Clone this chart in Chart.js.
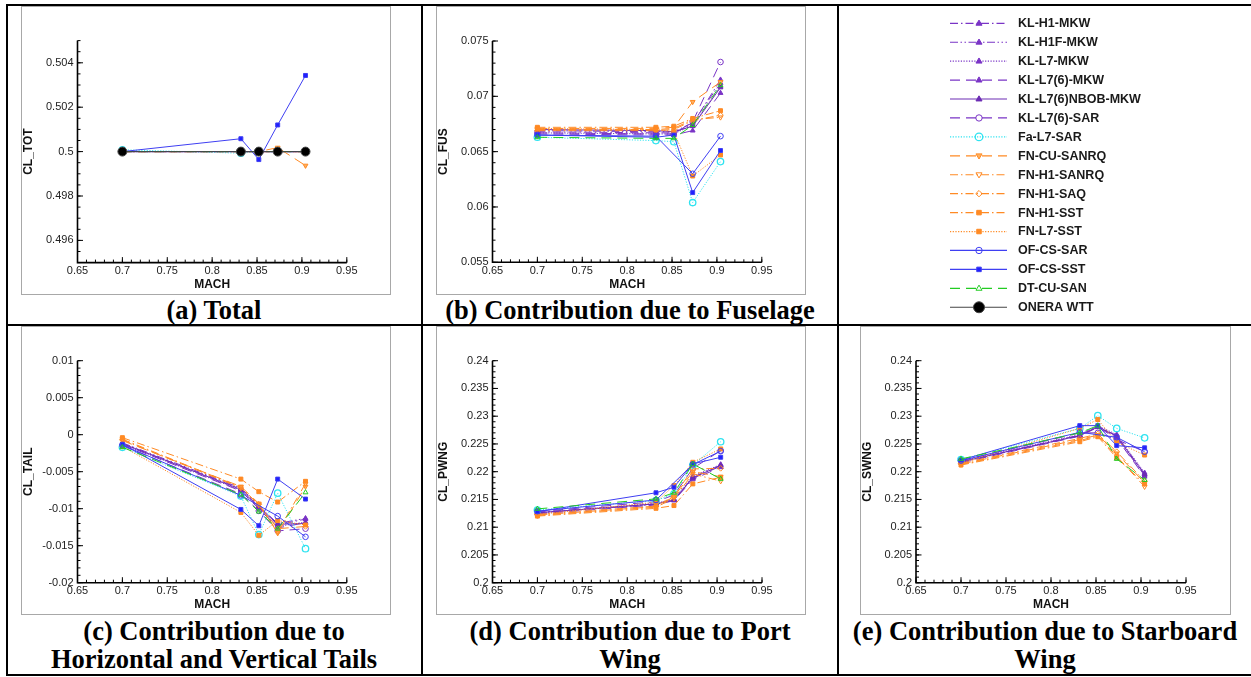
<!DOCTYPE html>
<html><head><meta charset="utf-8">
<script src="https://cdn.jsdelivr.net/npm/chart.js@4.4.0/dist/chart.umd.min.js"></script>
<style>
html,body{margin:0;padding:0;background:#fff;}
#root{position:relative;width:1251px;height:677px;overflow:hidden;background:#fff;}
.ln{position:absolute;background:#000;}
.frame{position:absolute;border:1px solid #a8a8a8;box-sizing:border-box;}
canvas{position:absolute;}
.cap{position:absolute;font:bold 26.5px "Liberation Serif","Times New Roman",serif;text-align:center;white-space:nowrap;color:#000;line-height:28.3px;}
</style></head><body>
<div id="root">
  <div class="frame" style="left:21px;top:6px;width:370px;height:289px"></div>
  <div class="frame" style="left:436px;top:6px;width:370px;height:289px"></div>
  <div class="frame" style="left:21px;top:326px;width:370px;height:289px"></div>
  <div class="frame" style="left:436px;top:326px;width:370px;height:289px"></div>
  <div class="frame" style="left:860px;top:326px;width:371px;height:289px"></div>

  <div class="ln" style="left:6px;top:4px;width:1245px;height:2px"></div>
  <div class="ln" style="left:6px;top:324px;width:1245px;height:2px"></div>
  <div class="ln" style="left:6px;top:674px;width:1245px;height:2px"></div>
  <div class="ln" style="left:6px;top:4px;width:2px;height:672px"></div>
  <div class="ln" style="left:421px;top:4px;width:2px;height:672px"></div>
  <div class="ln" style="left:837px;top:4px;width:2px;height:672px"></div>

  <div class="cap" style="left:7px;width:414px;top:296px">(a) Total</div>
  <div class="cap" style="left:423px;width:414px;top:296px">(b) Contribution due to Fuselage</div>
  <div class="cap" style="left:7px;width:414px;top:617px">(c) Contribution due to<br>Horizontal and Vertical Tails</div>
  <div class="cap" style="left:423px;width:414px;top:617px">(d) Contribution due to Port<br>Wing</div>
  <div class="cap" style="left:839px;width:412px;top:617px">(e) Contribution due to Starboard<br>Wing</div>
</div>
<script>
// ---------------- DATA ----------------
const SERIES = ['KL-H1-MKW','KL-H1F-MKW','KL-L7-MKW','KL-L7(6)-MKW','KL-L7(6)NBOB-MKW','KL-L7(6)-SAR',
  'Fa-L7-SAR','FN-CU-SANRQ','FN-H1-SANRQ','FN-H1-SAQ','FN-H1-SST','FN-L7-SST',
  'OF-CS-SAR','OF-CS-SST','DT-CU-SAN','ONERA WTT'];
const MACH = [0.70, 0.832, 0.852, 0.873, 0.904];
const X_TICKS = ['0.65','0.7','0.75','0.8','0.85','0.9','0.95'];
const TICKS_TOT  = ['0.496','0.498','0.5','0.502','0.504'];
const TICKS_FUS  = ['0.055','0.06','0.065','0.07','0.075'];
const TICKS_TAIL = ['-0.02','-0.015','-0.01','-0.005','0','0.005','0.01'];
const TICKS_WING = ['0.2','0.205','0.21','0.215','0.22','0.225','0.23','0.235','0.24'];

// rows follow SERIES order
const CL_TOT = [
  [0.5,0.5,0.5,0.5,0.5],
  [0.5,0.5,0.5,0.5,0.5],
  [0.5,0.5,0.5,0.5,0.5],
  [0.5,0.5,0.5,0.5,0.5],
  [0.5,0.5,0.5,0.5,0.5],
  [0.5,0.5,0.5,0.5,0.5],
  [0.50008,0.49993,0.5,0.5,0.5],
  [0.5,0.5,0.5,0.50018,0.49937],
  [0.5,0.5,0.5,0.5,0.5],
  [0.5,0.5,0.5,0.5,0.5],
  [0.5,0.5,0.5,0.5,0.5],
  [0.5,0.5,0.5,0.5,0.5],
  [0.5,0.5,null,0.5,0.5],
  [0.5,0.50058,0.49964,0.50120,0.50343],
  [0.5,0.5,0.5,0.5,0.5],
  [0.5,0.5,0.5,0.5,0.5]
];
const CL_FUS = [
  [0.0668,0.0667,0.0667,0.0675,0.0715],
  [0.0669,0.0668,0.0668,0.0676,0.0712],
  [0.0667,0.0666,0.0666,0.0674,0.0709],
  [0.0666,0.0665,0.0665,0.0669,0.0703],
  [0.0670,0.0669,0.0668,0.0673,0.0708],
  [0.0667,0.0666,0.0666,0.0677,0.0731],
  [0.0663,0.0660,0.0659,0.0604,0.0641],
  [0.0671,0.0671,0.0672,0.0695,0.0713],
  [0.0670,0.0670,0.0671,0.0679,0.0681],
  [0.0669,0.0669,0.0670,0.0678,0.0683],
  [0.0672,0.0672,0.0673,0.0680,0.0687],
  [0.0671,0.0670,0.0668,0.0628,0.0647],
  [0.0665,0.0664,null,0.0630,0.0664],
  [0.0665,0.0663,0.0665,0.0613,0.0651],
  [0.0663,0.0662,0.0662,0.0674,0.0710]
];
const CL_TAIL = [
  [-0.0012,-0.0073,-0.0097,-0.0122,-0.0114],
  [-0.0011,-0.0072,-0.0096,-0.0120,-0.0113],
  [-0.0013,-0.0075,-0.0099,-0.0124,-0.0118],
  [-0.0013,-0.0076,-0.0100,-0.0126,-0.0119],
  [-0.0012,-0.0074,-0.0098,-0.0121,-0.0120],
  [-0.0015,-0.0080,-0.0103,-0.0130,-0.0127],
  [-0.0017,-0.0083,-0.0135,-0.0079,-0.0154],
  [-0.0008,-0.0070,-0.0093,-0.0133,-0.0070],
  [-0.0006,-0.0071,-0.0095,-0.0131,-0.0066],
  [-0.0007,-0.0072,-0.0094,-0.0127,-0.0124],
  [-0.0004,-0.0060,-0.0077,-0.0091,-0.0063],
  [-0.0016,-0.0105,-0.0136,-0.0116,-0.0122],
  [-0.0014,-0.0082,null,-0.0110,-0.0138],
  [-0.0013,-0.0101,-0.0123,-0.0060,-0.0087],
  [-0.0017,-0.0081,-0.0104,-0.0127,-0.0078]
];
const CL_PWNG = [
  [0.2127,0.2142,0.2150,0.2190,0.2212],
  [0.2126,0.2141,0.2149,0.2188,0.2210],
  [0.2125,0.2143,0.2151,0.2192,0.2213],
  [0.2124,0.2140,0.2148,0.2186,0.2208],
  [0.2126,0.2142,0.2149,0.2189,0.2211],
  [0.2128,0.2146,0.2158,0.2206,0.2238],
  [0.2131,0.2148,0.2160,0.2212,0.2254],
  [0.2122,0.2137,0.2155,0.2200,0.2191],
  [0.2121,0.2136,0.2152,0.2196,0.2183],
  [0.2123,0.2138,0.2156,0.2205,0.2206],
  [0.2120,0.2134,0.2139,0.2178,0.2190],
  [0.2123,0.2145,0.2175,0.2217,0.2241],
  [0.2129,0.2149,null,0.2213,0.2237],
  [0.2128,0.2162,0.2172,0.2214,0.2226],
  [0.2133,0.2151,0.2162,0.2214,0.2187]
];
const CL_SWNG = [
  [0.2218,0.2266,0.2282,0.2265,0.2196],
  [0.2217,0.2265,0.2281,0.2262,0.2193],
  [0.2219,0.2267,0.2283,0.2267,0.2198],
  [0.2216,0.2264,0.2280,0.2260,0.2191],
  [0.2218,0.2265,0.2281,0.2264,0.2195],
  [0.2220,0.2270,0.2270,0.2258,0.2236],
  [0.2222,0.2278,0.2301,0.2278,0.2261],
  [0.2214,0.2258,0.2266,0.2233,0.2180],
  [0.2213,0.2256,0.2265,0.2228,0.2173],
  [0.2215,0.2260,0.2268,0.2236,0.2183],
  [0.2212,0.2254,0.2263,0.2225,0.2178],
  [0.2216,0.2278,0.2294,0.2253,0.2230],
  [0.2220,0.2271,null,0.2262,0.2236],
  [0.2221,0.2283,0.2283,0.2247,0.2243],
  [0.2223,0.2270,0.2283,0.2223,0.2185]
];

// ---------------- STYLES ----------------
const PURPLE='#7a34c6', CYAN='#2fe3f0', ORANGE='#ff8a24', BLUE='#3f3ff2', GREEN='#22cc22';
const DASH_DOT=[8,3,1.5,3], DASH_DDOT=[8,2.5,1.5,2.5,1.5,2.5], DOT=[1.2,1.5], LDASH=[10,6], SOLID=[];
const STYLES = [
  {c:PURPLE, dash:DASH_DOT,  shape:'triangle', fill:true},
  {c:PURPLE, dash:DASH_DDOT, shape:'triangle', fill:true},
  {c:PURPLE, dash:DOT,       shape:'triangle', fill:true},
  {c:PURPLE, dash:LDASH,     shape:'triangle', fill:true},
  {c:'#6c2cb4', dash:SOLID,  shape:'triangle', fill:true},
  {c:PURPLE, dash:LDASH,     shape:'circle',   fill:false, r:2.8},
  {c:CYAN,   dash:DOT,       shape:'circle',   fill:false, r:3.2, lr:3.8, bw:1.3},
  {c:ORANGE, dash:LDASH,     shape:'triangle', rot:180, fill:true, fc:'#ffb060'},
  {c:ORANGE, dash:DASH_DOT,  shape:'triangle', rot:180, fill:false},
  {c:ORANGE, dash:DASH_DOT,  shape:'rectRot',  fill:false},
  {c:ORANGE, dash:DASH_DOT,  shape:'rect',     fill:true},
  {c:ORANGE, dash:DOT,       shape:'rect',     fill:true},
  {c:BLUE,   dash:SOLID,     shape:'circle',   fill:false, r:2.8},
  {c:BLUE,   dash:SOLID,     shape:'rect',     fill:true, fc:'#2020ff'},
  {c:GREEN,  dash:LDASH,     shape:'triangle', fill:false},
  {c:'#444', dash:SOLID,     shape:'circle',   fill:true, fc:'#000', r:4.5, lr:5.5}
];
const FONT = "'Liberation Sans', Arial, Helvetica, sans-serif";

// ---------------- AXIS PLUGIN (Tecplot-like inward ticks) ----------------
const tecAxes = {
  id:'tecAxes',
  beforeDatasetsDraw(chart, args, o){
    const ctx = chart.ctx, xs = chart.scales.x, ys = chart.scales.y;
    const x0 = xs.getPixelForValue(xs.min), x1 = xs.getPixelForValue(xs.max);
    const y0 = ys.getPixelForValue(ys.min), y1 = ys.getPixelForValue(ys.max);
    ctx.save();
    ctx.strokeStyle = '#000'; ctx.lineCap='butt';
    ctx.lineWidth = 1;
    ctx.beginPath();
    const nx = Math.round((xs.max - xs.min)/o.xMinor);
    for (let k=0;k<=nx;k++){ const p = xs.getPixelForValue(xs.min + k*o.xMinor); ctx.moveTo(p,y0); ctx.lineTo(p,y0-3); }
    const ny = Math.round((ys.max - ys.min)/o.yMinor);
    for (let k=0;k<=ny;k++){ const p = ys.getPixelForValue(ys.min + k*o.yMinor); ctx.moveTo(x0,p); ctx.lineTo(x0+3,p); }
    o.xMajor.forEach(v=>{ const p = xs.getPixelForValue(v); ctx.moveTo(p,y0); ctx.lineTo(p,y0-5.5); });
    o.yMajor.forEach(v=>{ const p = ys.getPixelForValue(v); ctx.moveTo(x0,p); ctx.lineTo(x0+5.5,p); });
    ctx.stroke();
    ctx.lineWidth = 1.6;
    ctx.beginPath(); ctx.moveTo(x0,y1); ctx.lineTo(x0,y0); ctx.lineTo(x1,y0); ctx.stroke();
    ctx.restore();
  }
};

function buildChart(cfg){
  const root = document.getElementById('root');
  const cv = document.createElement('canvas');
  cv.width = cfg.box.w; cv.height = cfg.box.h;
  cv.style.left = cfg.box.left+'px'; cv.style.top = cfg.box.top+'px';
  cv.style.width = cfg.box.w+'px'; cv.style.height = cfg.box.h+'px';
  root.appendChild(cv);
  const yW = cfg.area.l - cfg.box.left;
  const padR = cfg.box.left + cfg.box.w - cfg.area.r;
  const padT = cfg.area.t - cfg.box.top;
  const xH = cfg.box.top + cfg.box.h - cfg.area.b;
  const xVals = X_TICKS.map(Number), yVals = cfg.yTicks.map(Number);
  const N = cfg.rows.length;
  const datasets = cfg.rows.map((vals,i)=>{
    const st = STYLES[i];
    const r = st.r || 2.8;
    return {
      label: SERIES[i],
      data: MACH.map((m,k)=>({x:m, y:vals[k]})),
      borderColor: st.c, backgroundColor: st.c, borderWidth: 1, borderDash: st.dash,
      pointStyle: st.shape, pointRotation: st.rot||0, pointRadius: r, pointHoverRadius: r,
      pointBorderColor: st.c, pointBorderWidth: st.bw||1,
      pointBackgroundColor: st.fill ? (st.fc||st.c) : 'rgba(0,0,0,0)',
      fill:false, tension:0, spanGaps:true, order: N - i
    };
  });
  new Chart(cv, {
    type:'line',
    data:{datasets},
    plugins:[tecAxes],
    options:{
      animation:false, responsive:false, devicePixelRatio:1, events:[],
      layout:{padding:{left:0, right:padR, top:padT, bottom:0}},
      plugins:{legend:{display:false}, tooltip:{enabled:false},
        tecAxes:{xMajor:xVals, xMinor:0.01, yMajor:yVals, yMinor:cfg.yMinor}},
      scales:{
        x:{type:'linear', min:0.65, max:0.95,
          afterBuildTicks:s=>{ s.ticks = xVals.map(v=>({value:v})); },
          afterFit:s=>{ s.height = xH; },
          ticks:{callback:(v,i)=>X_TICKS[i], autoSkip:false, maxRotation:0, minRotation:0, padding:2,
            color:'#222', font:{family:FONT, size:11}},
          grid:{display:false, drawTicks:false}, border:{display:false},
          title:{display:true, text:'MACH', color:'#111', font:{family:FONT, size:12, weight:'bold'}, padding:{top:0,bottom:2.2}}
        },
        y:{type:'linear', position:'left', min:cfg.yMin, max:cfg.yMax,
          afterBuildTicks:s=>{ s.ticks = yVals.map(v=>({value:v})); },
          afterFit:s=>{ s.width = yW; },
          ticks:{callback:(v,i)=>cfg.yTicks[i], autoSkip:false, padding:4,
            color:'#222', font:{family:FONT, size:11}},
          grid:{display:false, drawTicks:false}, border:{display:false},
          title:{display:true, text:cfg.yTitle, color:'#111', font:{family:FONT, size:12, weight:'bold'}, padding:{top:0.4,bottom:0}}
        }
      }
    }
  });
}

buildChart({box:{left:21,top:6,w:370,h:288}, area:{l:77.5,r:346.8,t:40.6,b:262.6},
  yMin:0.495, yMax:0.505, yTicks:TICKS_TOT, yMinor:0.0005, yTitle:'CL_TOT', rows:CL_TOT});
buildChart({box:{left:436,top:6,w:370,h:288}, area:{l:492.5,r:761.8,t:41,b:262.3},
  yMin:0.055, yMax:0.075, yTicks:TICKS_FUS, yMinor:0.001, yTitle:'CL_FUS', rows:CL_FUS});
buildChart({box:{left:21,top:327,w:370,h:287}, area:{l:77.5,r:346.8,t:360.7,b:582.7},
  yMin:-0.02, yMax:0.01, yTicks:TICKS_TAIL, yMinor:0.001, yTitle:'CL_TAIL', rows:CL_TAIL});
buildChart({box:{left:436,top:327,w:370,h:287}, area:{l:492.5,r:762,t:360.7,b:582.7},
  yMin:0.2, yMax:0.24, yTicks:TICKS_WING, yMinor:0.001, yTitle:'CL_PWNG', rows:CL_PWNG});
buildChart({box:{left:860,top:327,w:370,h:287}, area:{l:916,r:1186,t:360.7,b:582.7},
  yMin:0.2, yMax:0.24, yTicks:TICKS_WING, yMinor:0.001, yTitle:'CL_SWNG', rows:CL_SWNG});

// ---------------- LEGEND ----------------
function drawMarker(ctx, st, x, y, r){
  ctx.save();
  ctx.setLineDash([]);
  ctx.strokeStyle = st.c; ctx.lineWidth = st.bw||1;
  ctx.fillStyle = st.fill ? (st.fc||st.c) : 'rgba(0,0,0,0)';
  ctx.beginPath();
  if (st.shape==='circle'){ ctx.arc(x,y,r,0,Math.PI*2); }
  else if (st.shape==='rect'){ const s=r*Math.SQRT1_2; ctx.rect(x-s,y-s,2*s,2*s); }
  else if (st.shape==='rectRot'){ ctx.moveTo(x,y-r); ctx.lineTo(x+r,y); ctx.lineTo(x,y+r); ctx.lineTo(x-r,y); ctx.closePath(); }
  else if (st.shape==='triangle'){
    const d = st.rot ? -1 : 1;
    ctx.moveTo(x, y - d*r); ctx.lineTo(x + r*0.95, y + d*r*0.6); ctx.lineTo(x - r*0.95, y + d*r*0.6); ctx.closePath();
  }
  if (st.fill) ctx.fill();
  ctx.stroke();
  ctx.restore();
}
(function(){
  const L=839, T=7, W=412, Hh=317;
  const cv = document.createElement('canvas');
  cv.width=W; cv.height=Hh; cv.style.left=L+'px'; cv.style.top=T+'px';
  document.getElementById('root').appendChild(cv);
  const ctx = cv.getContext('2d');
  SERIES.forEach((name,i)=>{
    const st = STYLES[i];
    const y = 23.3 + i*18.93 - T;
    ctx.save();
    ctx.strokeStyle = st.c; ctx.lineWidth = 1.2; ctx.setLineDash(st.dash);
    ctx.beginPath(); ctx.moveTo(950-L,y); ctx.lineTo(1007-L,y); ctx.stroke();
    ctx.restore();
    drawMarker(ctx, st, 979-L, y, st.lr || 3.2);
    ctx.fillStyle='#1a1a1a'; ctx.font="bold 12.5px "+FONT; ctx.textBaseline='middle';
    ctx.fillText(name, 1018-L, y+0.5);
  });
})();
</script>
</body></html>
